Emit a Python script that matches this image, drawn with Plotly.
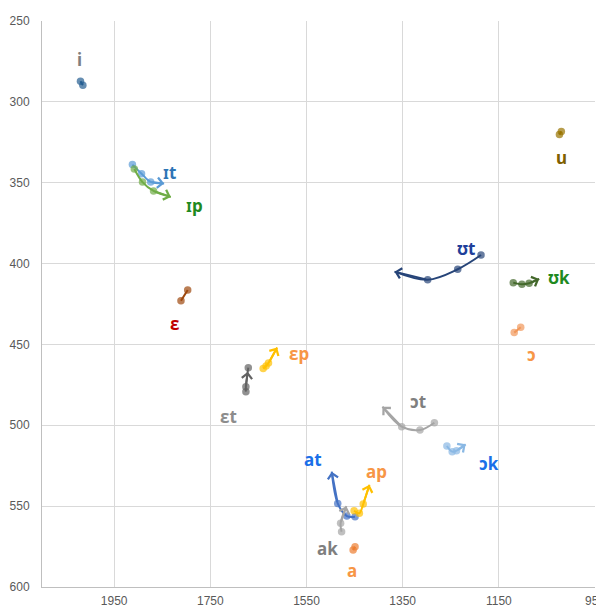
import plotly.graph_objects as go

# ---------------- axis ticks ----------------
X_TICKS = [1950, 1750, 1550, 1350, 1150, 950]
Y_TICKS = [250, 300, 350, 400, 450, 500, 550, 600]

# ---------------- vowel data: F2 (x) and F1 (y) ----------------
i_f2 = [2020, 2015];                 i_f1 = [287.3, 289.7]
it_f2 = [1912, 1893, 1874, 1846];    it_f1 = [338.8, 344.4, 349.5, 350.5]
ip_f2 = [1908, 1891, 1868, 1832];    ip_f1 = [341.5, 349.6, 355.1, 358.8]
e_f2 = [1797, 1811];                 e_f1 = [416.3, 423.0]
et_f2 = [1676, 1676, 1671];          et_f1 = [479.2, 476.1, 464.4]
ep_f2 = [1640, 1634, 1629, 1611];    ep_f1 = [464.9, 463.3, 461.5, 451.9]
ut_f2 = [1187, 1235.5, 1298, 1367];  ut_f1 = [394.7, 403.5, 410.0, 405.0]
uk_f2 = [1120, 1102, 1087, 1066];    uk_f1 = [411.8, 412.8, 412.2, 409.5]
u_f2 = [1024, 1020];                 u_f1 = [320.2, 318.3]
o_f2 = [1118, 1104.5];               o_f1 = [442.7, 439.4]
ot_f2 = [1284, 1314, 1352, 1392];    ot_f1 = [498.4, 502.9, 500.9, 488.5]
ok_f2 = [1258, 1247, 1238, 1219];    ok_f1 = [512.8, 516.3, 515.7, 511.8]
at_f2 = [1449, 1466, 1485, 1497.5];  at_f1 = [556.5, 556.1, 548.3, 528.7]
ap_f2 = [1451, 1440, 1432, 1419];    ap_f1 = [552.8, 554.4, 548.7, 536.8]
ak_f2 = [1477, 1479, 1467];          ak_f1 = [565.8, 560.6, 550.0]
a_f2 = [1453, 1449];                 a_f1 = [577.1, 575.1]

# series order, colours, and whether the series ends in an arrow
SERIES_F2 = [i_f2, it_f2, ip_f2, e_f2, et_f2, ep_f2, ut_f2, uk_f2, u_f2, o_f2,
             ot_f2, ok_f2, at_f2, ap_f2, ak_f2, a_f2]
SERIES_F1 = [i_f1, it_f1, ip_f1, e_f1, et_f1, ep_f1, ut_f1, uk_f1, u_f1, o_f1,
             ot_f1, ok_f1, at_f1, ap_f1, ak_f1, a_f1]
SERIES_COLORS = ["#255E91", "#5B9BD5", "#70AD47", "#9E480E", "#636363", "#FFC000",
                 "#264478", "#43682B", "#997300", "#F1975A", "#A5A5A5", "#8AB8E4",
                 "#4472C4", "#FFC000", "#A5A5A5", "#ED7D31"]
# 0 = no arrow, 1 = arrow tip is an unmarked final point, 2 = arrow tip under last marker
ARROW_MODE = [0, 1, 1, 0, 2, 1, 1, 1, 0, 0, 1, 1, 1, 1, 1, 0]

# ---------------- labels ----------------
LABEL_TEXT = ["i", "ɪt", "ɪp", "ɛ", "ɛt", "ɛp", "ʊt", "ʊk", "u", "ɔ", "ɔt", "ɔk",
              "at", "ap", "ak", "a"]
LABEL_F2 = [2021, 1834, 1782, 1824, 1713, 1566, 1218, 1025, 1019, 1082, 1319, 1170,
            1536, 1404, 1506, 1456]
LABEL_F1 = [273.5, 343.4, 363.8, 437.0, 494.7, 455.3, 390.4, 408.6, 334.7, 456.5,
            485.0, 523.5, 521.0, 528.7, 576.0, 590.0]
LABEL_COLORS = ["#7F7F7F", "#2E75B6", "#1F8A1F", "#C00000", "#8C8C8C", "#F79646",
                "#203F9A", "#1F8A1F", "#7F6000", "#F79646", "#7F7F7F", "#1A6FE8",
                "#1A6FE8", "#F79646", "#7F7F7F", "#F79646"]

fig = go.Figure()
annotations = []

for xs, ys, col, mode in zip(SERIES_F2, SERIES_F1, SERIES_COLORS, ARROW_MODE):
    sizes = [7.5] * len(xs)
    if mode == 1:
        sizes[-1] = 0
    fig.add_trace(go.Scatter(
        x=xs, y=ys, mode="lines+markers",
        line=dict(color=col, width=2, shape="spline", smoothing=1.0),
        marker=dict(color=col, size=sizes, line=dict(width=0)),
        showlegend=False, hoverinfo="skip", cliponaxis=False,
    ))
    if mode:
        annotations.append(dict(
            x=xs[-1], y=ys[-1], ax=xs[-2], ay=ys[-2],
            xref="x", yref="y", axref="x", ayref="y",
            text="", showarrow=True, arrowhead=4, arrowsize=1.0,
            arrowwidth=2, arrowcolor=col, standoff=4 if mode == 2 else 0,
        ))

for t, x, y, c in zip(LABEL_TEXT, LABEL_F2, LABEL_F1, LABEL_COLORS):
    annotations.append(dict(
        x=x, y=y, xref="x", yref="y", text="<b>%s</b>" % t, showarrow=False,
        font=dict(family="Noto Sans, DejaVu Sans, sans-serif", size=17, color=c),
    ))

# the page body has an 8px default margin, so the figure is sized to fill the rest
fig.update_layout(
    width=596, height=600,
    margin=dict(l=34, r=9, t=13, b=21, autoexpand=False),
    paper_bgcolor="white", plot_bgcolor="white",
    annotations=annotations,
    font=dict(family="Liberation Sans, Arial, sans-serif", size=12, color="#595959"),
    xaxis=dict(
        range=[2100, 950], tickvals=X_TICKS, ticktext=[str(v) for v in X_TICKS],
        showgrid=True, gridcolor="#D9D9D9", gridwidth=1, zeroline=False,
        showline=True, linecolor="#BFBFBF", linewidth=1, ticks="",
        ticklabelstandoff=3, automargin=False, ticklabeloverflow="allow",
    ),
    yaxis=dict(
        range=[600, 250], tickvals=Y_TICKS, ticktext=[str(v) for v in Y_TICKS],
        showgrid=True, gridcolor="#D9D9D9", gridwidth=1, zeroline=False,
        showline=True, linecolor="#BFBFBF", linewidth=1, ticks="",
        ticklabelstandoff=9, automargin=False, ticklabeloverflow="allow",
    ),
)

fig.write_html("out.html")
